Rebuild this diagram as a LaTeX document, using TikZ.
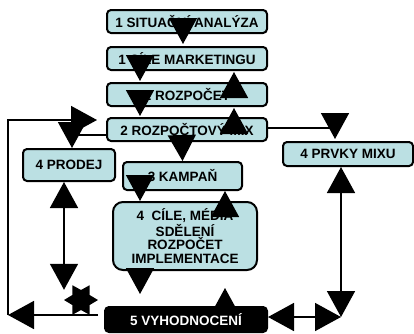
\documentclass[tikz,border=0pt]{standalone}
\usepackage{fontspec}
\setmainfont{Liberation Sans}
\usetikzlibrary{arrows.meta,shapes.geometric}
\definecolor{boxfill}{RGB}{187,224,227}
\tikzset{
  stage/.style={draw=black, line width=2pt, fill=boxfill, rounded corners=4pt,
    inner sep=0pt, align=center, text=black,
    font=\bfseries\fontsize{13.5}{13.5}\selectfont},
  link/.style={line width=1.6pt, -{Triangle[width=28pt,length=26pt]}},
  both/.style={line width=1.6pt,
    {Triangle[width=28pt,length=26pt]}-{Triangle[width=28pt,length=26pt]}},
  plain/.style={line width=1.6pt},
}
\begin{document}
\begin{tikzpicture}[x=1pt,y=-1pt]
\useasboundingbox (0,0) rectangle (414,333);

% planning stages
\node[stage, minimum width=160pt, minimum height=23pt] (s1) at (187,21.5) {1 SITUAČNÍ ANALÝZA};
\node[stage, minimum width=160pt, minimum height=23pt] (s2) at (187,58.5) {1 CÍLE MARKETINGU};
\node[stage, minimum width=160pt, minimum height=23pt] (s3) at (187,94.5) {2 ROZPOČET};
\node[stage, minimum width=160pt, minimum height=23pt] (s4) at (187,129.5) {2 ROZPOČTOVÝ MIX};
\node[stage, minimum width=92pt, minimum height=32pt] (prodej) at (69,165) {4 PRODEJ};
\node[stage, minimum width=119pt, minimum height=28pt] (kampan) at (182.5,176) {3 KAMPAŇ};
\node[stage, minimum width=130pt, minimum height=24pt] (prvky) at (348,154) {4 PRVKY MIXU};
\node[stage, minimum width=144pt, minimum height=68pt, rounded corners=10pt] (big) at (185,236)
  {4~~CÍLE, MÉDIA\\SDĚLENÍ\\ROZPOČET\\IMPLEMENTACE};

% burst on the feedback line
\node[star, star points=6, star point ratio=1.7, shape border rotate=30,
  minimum size=34pt, inner sep=0pt, fill=black] (burst) at (81,300) {};

% corner points of the feedback loops
\coordinate (lb) at (8,315);
\coordinate (lt) at (8,120);
\coordinate (rc) at (341,317);
\coordinate (vyhW) at (98,315);

% main chain
\draw[link] ([xshift=-4pt]s1.south) -- ([xshift=-4pt,yshift=2pt]s2.north);
\draw[link] ([xshift=-47pt]s2.south) -- ([xshift=-47pt,yshift=1pt]s3.north);
\draw[link] ([xshift=-47pt]s3.south) -- ([xshift=-47pt,yshift=1pt]s4.north);
\draw[link] ([xshift=47pt]s3.north) -- ([xshift=47pt,yshift=-1pt]s2.south);
\draw[link] ([xshift=47pt]s4.north) -- ([xshift=47pt,yshift=-1pt]s3.south);
\draw[link] ([xshift=-5pt]s4.south) -- (kampan.north);
\draw[link] ([xshift=-42.5pt]kampan.south) -- ([xshift=-45pt]big.north);
\draw[link] ([xshift=40pt]big.north) -- ([xshift=42.5pt]kampan.south);
\draw[link] ([xshift=-45pt]big.south) -- ([xshift=-45pt,yshift=-23pt]big.south);
\draw[link] (225,320) -- (225,288);

% left branch
\draw[link] ([yshift=-5.5pt]s4.west) -| ([xshift=3pt]prodej.north);
\draw[both] ([xshift=-5pt]prodej.south) -- ([xshift=-5pt]prodej.south |- burst.north);
\draw[link] (vyhW) -- (lb);
\draw[link] (lb) -- (lt) -- ([xshift=-9pt,yshift=9.5pt]s4.west);

% right branch
\draw[link] ([yshift=1.5pt]s4.east) -| ([xshift=-13pt,yshift=2pt]prvky.north);
\draw[both] (rc |- prvky.south) -- (rc);

% evaluation
\node[draw=black, line width=2pt, fill=black, rounded corners=4pt, inner sep=0pt,
  minimum width=162pt, minimum height=25pt, text=white,
  font=\bfseries\fontsize{13.5}{13.5}\selectfont] (vyh) at (186,319.5) {5 VYHODNOCENÍ};
\draw[both] (vyh.east |- rc) -- (rc);
\end{tikzpicture}
\end{document}
